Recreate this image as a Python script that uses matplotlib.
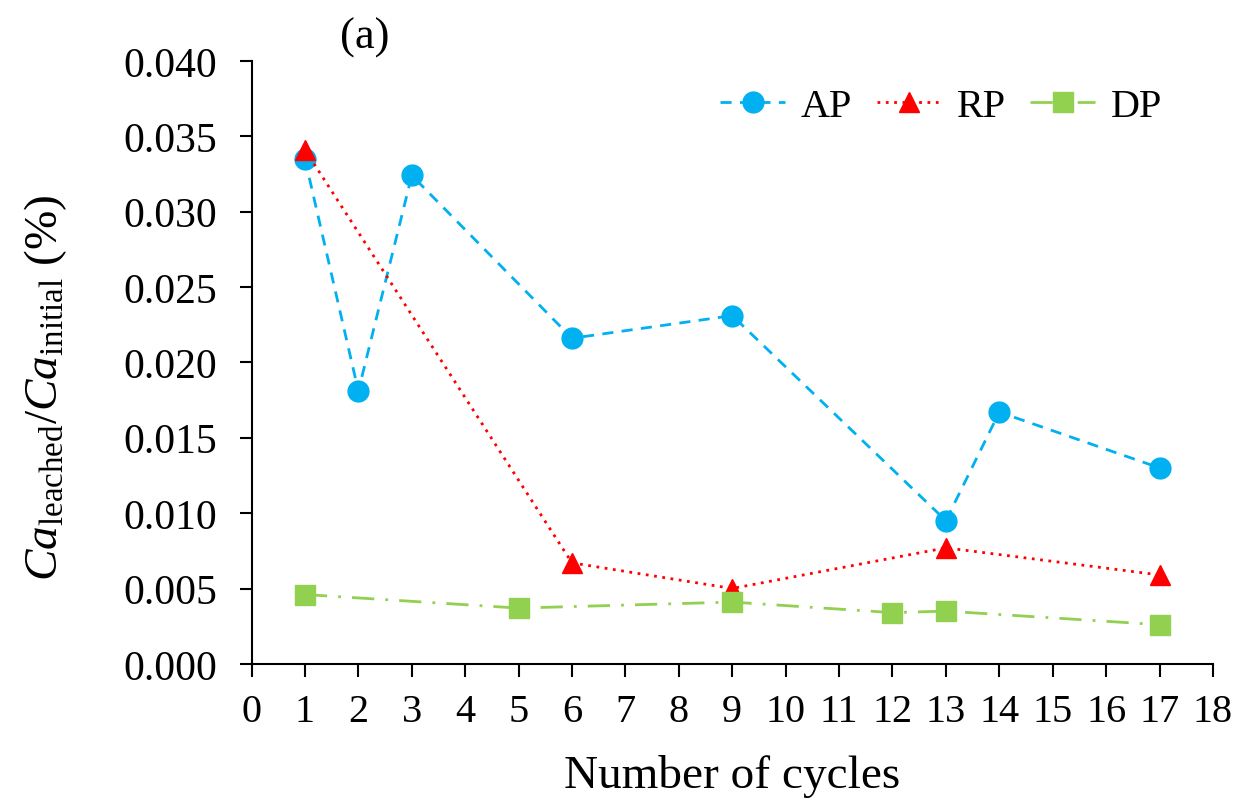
## Ca leached ratio vs number of cycles, panel (a)

import matplotlib
matplotlib.use("Agg")
import matplotlib.pyplot as plt

plt.rcParams['font.family'] = ['Liberation Serif', 'DejaVu Serif']
plt.rcParams['mathtext.fontset'] = 'custom'
plt.rcParams['mathtext.rm'] = 'Liberation Serif'
plt.rcParams['mathtext.it'] = 'Liberation Serif:italic'

ap_x = [1, 2, 3, 6, 9, 13, 14, 17]
ap_y = [0.0335, 0.0181, 0.0324, 0.0216, 0.0231, 0.0095, 0.0167, 0.0130]

rp_x = [1, 6, 9, 13, 17]
rp_y = [0.0341, 0.0067, 0.0050, 0.0077, 0.0059]

dp_x = [1, 5, 9, 12, 13, 17]
dp_y = [0.0046, 0.0037, 0.0041, 0.0034, 0.0035, 0.0026]

yticks = [0.000, 0.005, 0.010, 0.015, 0.020, 0.025, 0.030, 0.035, 0.040]

fig = plt.figure(figsize=(12.39, 8.03), dpi=100)
ax = fig.add_axes([0.203, 0.172, 0.776, 0.751])

ax.plot(ap_x, ap_y, linestyle=(0, (4, 3)), color='#00B0F0', lw=2,
        marker='o', markersize=15, label='AP')
ax.plot(rp_x, rp_y, linestyle=(0, (1, 2)), color='#FF0000', lw=2,
        marker='^', markersize=15, label='RP')
ax.plot(dp_x, dp_y, linestyle=(0, (8, 4, 1, 4)), color='#92D050', lw=2,
        marker='s', markersize=14, label='DP')

ax.set_xlim(0, 18)
ax.set_ylim(0, 0.040)
ax.set_xticks(range(0, 19))
ax.set_yticks(yticks)
ax.set_yticklabels(['%.3f' % v for v in yticks])
ax.tick_params(axis='y', labelsize=30, direction='out', length=9, width=1.5, pad=16)
ax.tick_params(axis='x', labelsize=29, direction='out', length=9, width=1.5, pad=12)
for s in ['top', 'right']:
    ax.spines[s].set_visible(False)
for s in ['left', 'bottom']:
    ax.spines[s].set_linewidth(1.5)

ax.set_xlabel('Number of cycles', fontsize=34, labelpad=17)
ax.set_ylabel(r'$\mathit{Ca}_{\mathrm{leached}}/\mathit{Ca}_{\mathrm{initial}}$ (%)',
              fontsize=34)
ax.yaxis.set_label_coords(-0.19, 0.46)

ax.legend(loc='upper right', ncol=3, frameon=False, fontsize=29,
          handlelength=1.6, columnspacing=0.6, handletextpad=0.4,
          bbox_to_anchor=(0.985, 1.015))

ax.text(0.118, 1.04, '(a)', transform=ax.transAxes, fontsize=32,
        ha='center', va='center')

fig.savefig('out.png', dpi=100)
